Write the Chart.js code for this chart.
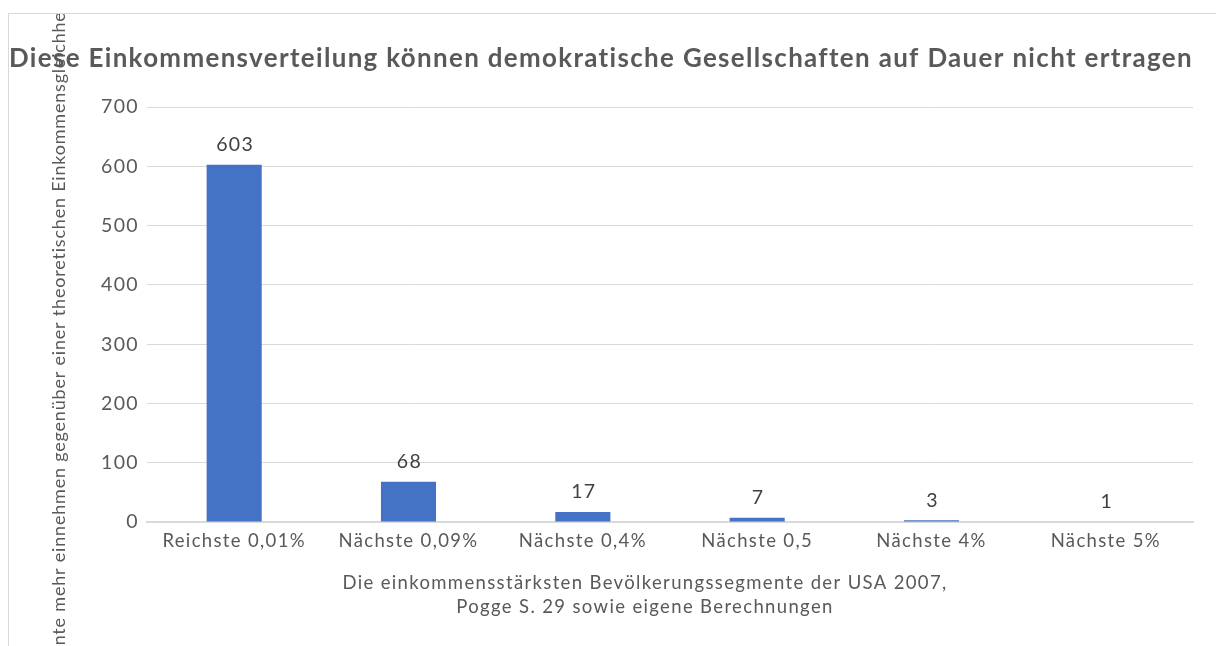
<!DOCTYPE html>
<html lang="de">
<head>
<meta charset="utf-8">
<title>Einkommensverteilung USA 2007</title>
<script src="https://cdn.jsdelivr.net/npm/chart.js@4.4.1/dist/chart.umd.min.js"></script>
<style>
    html, body { margin: 0; padding: 0; background: #fff; overflow: hidden; }
    #frame {
        position: absolute; left: 8px; top: 13px; width: 1400px; height: 700px;
        border-left: 1px solid #d9d9d9; border-top: 1px solid #d9d9d9;
    }
    #wrap { position: absolute; left: 0; top: 0; width: 1202px; height: 633px; }
</style>
</head>
<body>
<div id="frame"><div id="wrap"><canvas id="incomeChart"></canvas></div></div>
<script>
// Daten
const categories = ['Reichste 0,01%', 'Nächste 0,09%', 'Nächste 0,4%', 'Nächste 0,5', 'Nächste 4%', 'Nächste 5%'];
const values = [603, 68, 17, 7, 3, 1];
const yTicks = [0, 100, 200, 300, 400, 500, 600, 700];

const chartTitle = 'Diese Einkommensverteilung können demokratische Gesellschaften auf Dauer nicht ertragen';
const yTitle = 'Segmente mehr einnehmen gegenüber einer theoretischen Einkommensgleichheit';
const xTitle = ['Die einkommensstärksten Bevölkerungssegmente der USA 2007,', 'Pogge S. 29 sowie eigene Berechnungen'];

const textColor = '#595959';
const gridColor = '#d9d9d9';
const barColor = '#4472C4';
const fontFamily = 'Lato, Carlito, "Open Sans", sans-serif';
const spacing = '1.35px';

// Zeichenabstand wie im Original (breit gesetzte Schrift)
const letterSpacing = {
    id: 'letterSpacing',
    beforeLayout(chart) { chart.ctx.letterSpacing = spacing; },
    beforeDraw(chart) { chart.ctx.letterSpacing = spacing; }
};

// Werte über den Balken
const valueLabels = {
    id: 'valueLabels',
    afterDatasetsDraw(chart) {
        const ctx = chart.ctx;
        const meta = chart.getDatasetMeta(0);
        ctx.save();
        ctx.font = '19.5px ' + fontFamily;
        ctx.fillStyle = '#404040';
        ctx.textAlign = 'center';
        ctx.textBaseline = 'middle';
        meta.data.forEach((bar, i) => {
            ctx.fillText(values[i], bar.x + 1, bar.y - 20);
        });
        ctx.restore();
    }
};

// Achsentitel: unten leicht links von der Mitte, links senkrecht (läuft über den Rand hinaus)
const axisTitles = {
    id: 'axisTitles',
    afterDraw(chart) {
        const ctx = chart.ctx;
        const area = chart.chartArea;
        ctx.save();
        ctx.fillStyle = textColor;
        ctx.textAlign = 'center';
        ctx.textBaseline = 'middle';
        ctx.font = '18.5px ' + fontFamily;
        const cx = (area.left + area.right) / 2 - 25;
        xTitle.forEach((line, i) => {
            ctx.fillText(line, cx, area.bottom + 61 + i * 24);
        });
        ctx.letterSpacing = '0.8px';
        ctx.font = '18px ' + fontFamily;
        ctx.translate(50, (area.top + area.bottom) / 2 + 36);
        ctx.rotate(-Math.PI / 2);
        ctx.fillText(yTitle, 0, 0);
        ctx.restore();
    }
};

const ctx = document.getElementById('incomeChart').getContext('2d');
new Chart(ctx, {
    type: 'bar',
    data: {
        labels: categories,
        datasets: [{
            data: values,
            backgroundColor: barColor,
            borderWidth: 0,
            categoryPercentage: 1,
            barPercentage: 0.316
        }]
    },
    options: {
        responsive: true,
        maintainAspectRatio: false,
        animation: false,
        layout: { padding: { left: 0, right: 18, top: 0, bottom: 0 } },
        plugins: {
            legend: { display: false },
            tooltip: { enabled: false },
            title: {
                display: true,
                text: chartTitle,
                color: textColor,
                font: { family: fontFamily, size: 26, weight: 'bold', lineHeight: 1.2 },
                padding: { top: 29, bottom: 33 }
            }
        },
        scales: {
            x: {
                grid: { display: false, drawTicks: false },
                border: { display: true, color: gridColor, width: 2 },
                ticks: {
                    color: textColor,
                    font: { family: fontFamily, size: 18.5, lineHeight: 1.2 },
                    padding: 8,
                    maxRotation: 0,
                    autoSkip: false
                },
                afterFit: scale => { scale.height = 125; }
            },
            y: {
                min: 0,
                max: 700,
                afterBuildTicks: scale => { scale.ticks = yTicks.map(v => ({ value: v })); },
                grid: { color: gridColor, lineWidth: 1, drawTicks: false },
                border: { display: false },
                ticks: {
                    color: textColor,
                    font: { family: fontFamily, size: 19.5 },
                    padding: 8
                },
                afterFit: scale => { scale.width = 138; }
            }
        }
    },
    plugins: [letterSpacing, valueLabels, axisTitles]
});
</script>
</body>
</html>
